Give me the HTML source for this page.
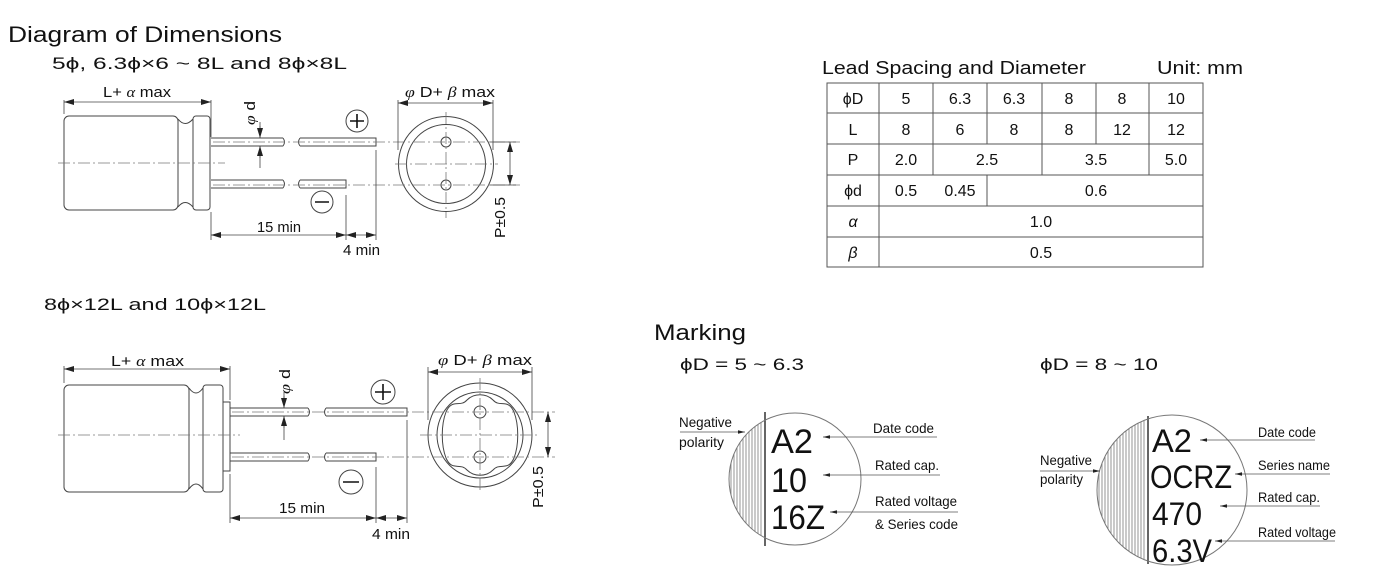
<!DOCTYPE html>
<html><head><meta charset="utf-8"><style>
html,body{margin:0;padding:0;background:#fff;}
svg{display:block;}
text{font-family:"Liberation Sans",sans-serif;fill:#111;}
</style></head><body>
<svg width="1385" height="579" viewBox="0 0 1385 579" xmlns="http://www.w3.org/2000/svg">
<defs>
<marker id="a" viewBox="0 0 10 6" refX="10" refY="3" markerWidth="10" markerHeight="6" orient="auto-start-reverse" markerUnits="userSpaceOnUse"><path d="M0,0 L10,3 L0,6z" fill="#222"/></marker>
<marker id="s" viewBox="0 0 8 4" refX="8" refY="2" markerWidth="7" markerHeight="4" orient="auto-start-reverse" markerUnits="userSpaceOnUse"><path d="M0,0 L8,2 L0,4z" fill="#222"/></marker>
<clipPath id="c1"><circle cx="795" cy="479" r="66"/></clipPath>
<clipPath id="c2"><circle cx="1172" cy="490" r="75"/></clipPath>
</defs>

<!-- Titles -->
<text x="8" y="42" font-size="22" textLength="274" lengthAdjust="spacingAndGlyphs">Diagram of Dimensions</text>
<text x="52" y="69" font-size="17" textLength="295" lengthAdjust="spacingAndGlyphs">5ϕ,  6.3ϕ×6 ~ 8L and 8ϕ×8L</text>
<text x="44" y="310" font-size="17" textLength="222" lengthAdjust="spacingAndGlyphs">8ϕ×12L and 10ϕ×12L</text>

<!-- ===== TOP DIAGRAM ===== -->
<g stroke="#444" fill="none" stroke-width="1">
<rect x="64" y="116" width="114" height="94" rx="5"/>
<path d="M178,119 Q185,128 193,119 M178,207 Q185,198 193,207"/>
<rect x="193" y="116" width="17" height="94" rx="3"/>
<path d="M211,138 H283 M211,146 H283 M283,138 q3,4 0,8 M300,138 q-3,4 0,8 M300,138 H376 V146 H300"/>
<path d="M211,180 H283 M211,188 H283 M283,180 q3,4 0,8 M300,180 q-3,4 0,8 M300,180 H346 V188 H300"/>
<circle cx="446" cy="164" r="47.5"/>
<circle cx="446" cy="164" r="39.5"/>
<circle cx="446" cy="142" r="5"/>
<circle cx="446" cy="185" r="5"/>
<circle cx="357" cy="121" r="11"/>
<circle cx="322" cy="202" r="11"/>
</g>
<g stroke="#111" stroke-width="1.6"><path d="M350,121 H364 M357,114 V128 M315,202 H329"/></g>
<g stroke="#777" stroke-width="0.8" fill="none" stroke-dasharray="12 3 2 3">
<path d="M58,163 H225 M213,142 H520 M213,185 H520 M395,164 H498 M446,112 V218"/>
</g>
<g stroke="#444" stroke-width="0.8" fill="none">
<path d="M64,100 V114 M211,100 V137 M398,100 V150 M493,100 V150 M211,212 V240 M346,195 V240 M376,150 V240 M490,142 H516 M490,185 H516 M260,122 V134 M260,150 V168"/>
<path d="M64,102 H211" marker-start="url(#a)" marker-end="url(#a)"/>
<path d="M398,103 H493" marker-start="url(#a)" marker-end="url(#a)"/>
<path d="M211,235 H346" marker-start="url(#a)" marker-end="url(#a)"/>
<path d="M346,235 H376" marker-start="url(#a)" marker-end="url(#a)"/>
<path d="M510,142 V185" marker-start="url(#a)" marker-end="url(#a)"/>
<path d="M260,126 V138" marker-end="url(#a)"/>
<path d="M260,158 V146" marker-end="url(#a)"/>
</g>
<text x="103" y="97" font-size="15" textLength="68" lengthAdjust="spacingAndGlyphs">L+ <tspan font-family="Liberation Serif" font-style="italic">α</tspan>  max</text>
<text x="405" y="97" font-size="15" textLength="90" lengthAdjust="spacingAndGlyphs"><tspan font-family="Liberation Serif" font-style="italic">φ</tspan> D+ <tspan font-family="Liberation Serif" font-style="italic">β</tspan> max</text>
<text x="257" y="232" font-size="15" textLength="44" lengthAdjust="spacingAndGlyphs">15 min</text>
<text x="343" y="255" font-size="15" textLength="37" lengthAdjust="spacingAndGlyphs">4 min</text>
<text transform="translate(255,125) rotate(-90)" font-size="15" textLength="24" lengthAdjust="spacingAndGlyphs"><tspan font-family="Liberation Serif" font-style="italic">φ</tspan> d</text>
<text transform="translate(505,238) rotate(-90)" font-size="15" textLength="41" lengthAdjust="spacingAndGlyphs">P±0.5</text>

<!-- ===== BOTTOM DIAGRAM ===== -->
<g stroke="#444" fill="none" stroke-width="1">
<rect x="64" y="385" width="125" height="107" rx="5"/>
<path d="M189,388 Q196,398 203,388 M189,489 Q196,479 203,489"/>
<rect x="203" y="385" width="20" height="107" rx="3"/>
<rect x="223" y="402" width="7" height="69"/>
<path d="M230,408 H308 M230,416 H308 M308,408 q3,4 0,8 M326,408 q-3,4 0,8 M326,408 H407 V416 H326"/>
<path d="M230,453 H308 M230,461 H308 M308,453 q3,4 0,8 M326,453 q-3,4 0,8 M326,453 H376 V461 H326"/>
<circle cx="480" cy="435" r="52"/>
<circle cx="480" cy="435" r="43"/>
<path d="M446,412 C452,398 460,408 467,400 C474,393 486,393 493,400 C500,408 508,398 514,412 C519,425 519,445 514,458 C508,472 500,462 493,470 C486,477 474,477 467,470 C460,462 452,472 446,458 C441,445 441,425 446,412 Z"/>
<circle cx="480" cy="412" r="6"/>
<circle cx="480" cy="457" r="6"/>
<circle cx="383" cy="392" r="12"/>
<circle cx="351" cy="482" r="12"/>
</g>
<g stroke="#111" stroke-width="1.6"><path d="M375,392 H391 M383,384 V400 M343,482 H359"/></g>
<g stroke="#777" stroke-width="0.8" fill="none" stroke-dasharray="12 3 2 3">
<path d="M58,435 H240 M232,412 H555 M232,457 H555 M420,435 H540 M480,378 V492"/>
</g>
<g stroke="#444" stroke-width="0.8" fill="none">
<path d="M64,366 V383 M230,366 V400 M428,367 V420 M532,367 V420 M230,474 V523 M376,467 V523 M407,420 V523 M284,392 V404 M284,422 V440"/>
<path d="M64,369 H230" marker-start="url(#a)" marker-end="url(#a)"/>
<path d="M428,372 H532" marker-start="url(#a)" marker-end="url(#a)"/>
<path d="M230,518 H376" marker-start="url(#a)" marker-end="url(#a)"/>
<path d="M376,518 H407" marker-start="url(#a)" marker-end="url(#a)"/>
<path d="M548,412 V457" marker-start="url(#a)" marker-end="url(#a)"/>
<path d="M284,396 V408" marker-end="url(#a)"/>
<path d="M284,428 V416" marker-end="url(#a)"/>
</g>
<text x="111" y="366" font-size="15" textLength="73" lengthAdjust="spacingAndGlyphs">L+ <tspan font-family="Liberation Serif" font-style="italic">α</tspan>  max</text>
<text x="438" y="365" font-size="15" textLength="94" lengthAdjust="spacingAndGlyphs"><tspan font-family="Liberation Serif" font-style="italic">φ</tspan> D+ <tspan font-family="Liberation Serif" font-style="italic">β</tspan> max</text>
<text x="279" y="513" font-size="15" textLength="46" lengthAdjust="spacingAndGlyphs">15 min</text>
<text x="372" y="539" font-size="15" textLength="38" lengthAdjust="spacingAndGlyphs">4 min</text>
<text transform="translate(290,394) rotate(-90)" font-size="15" textLength="25" lengthAdjust="spacingAndGlyphs"><tspan font-family="Liberation Serif" font-style="italic">φ</tspan> d</text>
<text transform="translate(543,508) rotate(-90)" font-size="15" textLength="42" lengthAdjust="spacingAndGlyphs">P±0.5</text>

<!-- ===== TABLE ===== -->
<text x="822" y="74" font-size="18" textLength="264" lengthAdjust="spacingAndGlyphs">Lead Spacing and Diameter</text>
<text x="1157" y="74" font-size="18" textLength="86" lengthAdjust="spacingAndGlyphs">Unit: mm</text>
<g stroke="#555" stroke-width="1" fill="none">
<rect x="827" y="83" width="376" height="184"/>
<path d="M827,113 H1203 M827,144 H1203 M827,175 H1203 M827,206 H1203 M827,237 H1203"/>
<path d="M879,83 V267 M933,83 V175 M987,83 V144 M987,175 V206 M1042,83 V175 M1096,83 V144 M1149,83 V175"/>
</g>
<g font-size="16" text-anchor="middle">
<text x="853" y="104">ϕD</text><text x="906" y="104">5</text><text x="960" y="104">6.3</text><text x="1014" y="104">6.3</text><text x="1069" y="104">8</text><text x="1122" y="104">8</text><text x="1176" y="104">10</text>
<text x="853" y="135">L</text><text x="906" y="135">8</text><text x="960" y="135">6</text><text x="1014" y="135">8</text><text x="1069" y="135">8</text><text x="1122" y="135">12</text><text x="1176" y="135">12</text>
<text x="853" y="165">P</text><text x="906" y="165">2.0</text><text x="987" y="165">2.5</text><text x="1096" y="165">3.5</text><text x="1176" y="165">5.0</text>
<text x="853" y="196">ϕd</text><text x="906" y="196">0.5</text><text x="960" y="196">0.45</text><text x="1096" y="196">0.6</text>
<text x="853" y="227" font-family="Liberation Serif" font-style="italic">α</text><text x="1041" y="227">1.0</text>
<text x="853" y="258" font-family="Liberation Serif" font-style="italic">β</text><text x="1041" y="258">0.5</text>
</g>

<!-- ===== MARKING ===== -->
<text x="654" y="340" font-size="22" textLength="92" lengthAdjust="spacingAndGlyphs">Marking</text>
<text x="680" y="370" font-size="17" textLength="124" lengthAdjust="spacingAndGlyphs">ϕD = 5 ~ 6.3</text>
<text x="1040" y="370" font-size="17" textLength="118" lengthAdjust="spacingAndGlyphs">ϕD = 8 ~ 10</text>

<!-- left circle -->
<g clip-path="url(#c1)" stroke="#666" stroke-width="0.7">
<path d="M731,410V550M734,410V550M737,410V550M740,410V550M743,410V550M746,410V550M749,410V550M752,410V550M755,410V550M758,410V550M761,410V550"/>
</g>
<path d="M765,412V546" stroke="#333" stroke-width="1.5"/>
<circle cx="795" cy="479" r="66" fill="none" stroke="#777" stroke-width="1"/>
<g font-size="34"><text x="771" y="453" textLength="42" lengthAdjust="spacingAndGlyphs">A2</text>
<text x="771" y="492" textLength="36" lengthAdjust="spacingAndGlyphs">10</text>
<text x="771" y="529" textLength="54" lengthAdjust="spacingAndGlyphs">16Z</text></g>
<g stroke="#555" stroke-width="0.8" fill="none">
<path d="M937,437 H823" marker-end="url(#s)"/>
<path d="M940,475 H823" marker-end="url(#s)"/>
<path d="M958,512 H830" marker-end="url(#s)"/>
<path d="M680,432 H745" marker-end="url(#s)"/>
</g>
<g font-size="14">
<text x="873" y="433" textLength="61" lengthAdjust="spacingAndGlyphs">Date code</text>
<text x="875" y="470" textLength="64" lengthAdjust="spacingAndGlyphs">Rated cap.</text>
<text x="875" y="506" textLength="82" lengthAdjust="spacingAndGlyphs">Rated voltage</text>
<text x="875" y="529" textLength="83" lengthAdjust="spacingAndGlyphs">&amp; Series code</text>
<text x="679" y="427" textLength="53" lengthAdjust="spacingAndGlyphs">Negative</text>
<text x="679" y="447" textLength="45" lengthAdjust="spacingAndGlyphs">polarity</text>
</g>

<!-- right circle -->
<g clip-path="url(#c2)" stroke="#666" stroke-width="0.7">
<path d="M1099,412V570M1102,412V570M1105,412V570M1108,412V570M1111,412V570M1114,412V570M1117,412V570M1120,412V570M1123,412V570M1126,412V570M1129,412V570M1132,412V570M1135,412V570M1138,412V570M1141,412V570M1144,412V570"/>
</g>
<path d="M1148,416V564" stroke="#333" stroke-width="1.5"/>
<circle cx="1172" cy="490" r="75" fill="none" stroke="#777" stroke-width="1"/>
<g font-size="32"><text x="1152" y="452" textLength="40" lengthAdjust="spacingAndGlyphs">A2</text>
<text x="1150" y="488" textLength="82" lengthAdjust="spacingAndGlyphs">OCRZ</text>
<text x="1152" y="525" textLength="50" lengthAdjust="spacingAndGlyphs">470</text>
<text x="1152" y="562" textLength="60" lengthAdjust="spacingAndGlyphs">6.3V</text></g>
<g stroke="#555" stroke-width="0.8" fill="none">
<path d="M1315,440 H1200" marker-end="url(#s)"/>
<path d="M1330,474 H1235" marker-end="url(#s)"/>
<path d="M1320,506 H1220" marker-end="url(#s)"/>
<path d="M1335,541 H1215" marker-end="url(#s)"/>
<path d="M1040,471 H1100" marker-end="url(#s)"/>
</g>
<g font-size="14">
<text x="1258" y="437" textLength="58" lengthAdjust="spacingAndGlyphs">Date code</text>
<text x="1258" y="470" textLength="72" lengthAdjust="spacingAndGlyphs">Series name</text>
<text x="1258" y="502" textLength="62" lengthAdjust="spacingAndGlyphs">Rated cap.</text>
<text x="1258" y="537" textLength="78" lengthAdjust="spacingAndGlyphs">Rated voltage</text>
<text x="1040" y="465" textLength="52" lengthAdjust="spacingAndGlyphs">Negative</text>
<text x="1040" y="484" textLength="43" lengthAdjust="spacingAndGlyphs">polarity</text>
</g>
</svg>
</body></html>
